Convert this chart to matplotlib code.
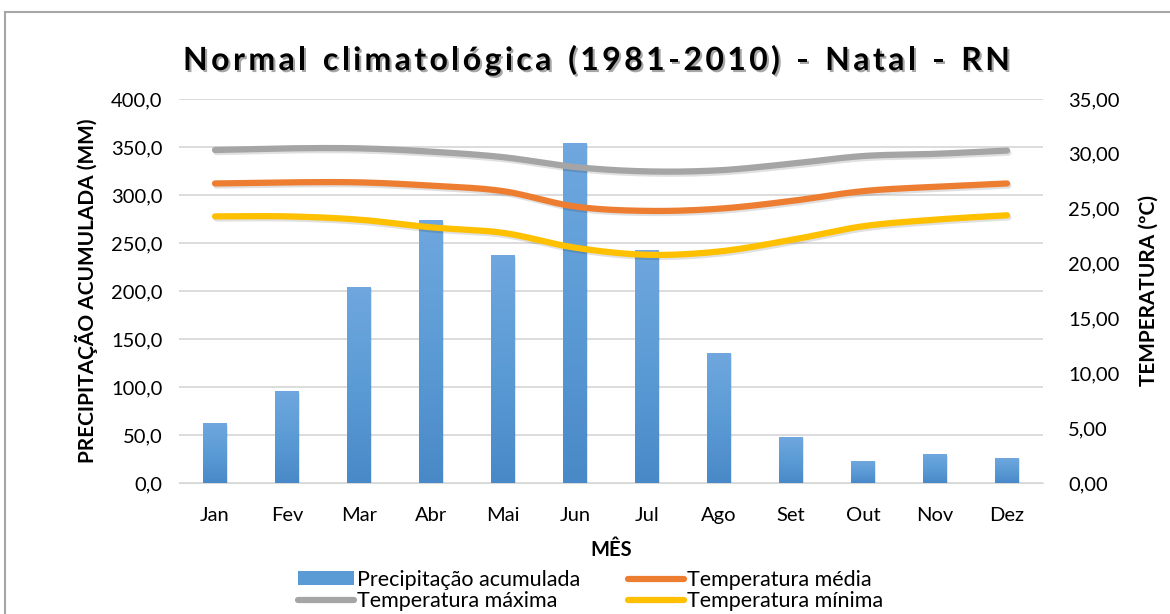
import numpy as np
import matplotlib
matplotlib.use("Agg")
import matplotlib.pyplot as plt
import matplotlib.patheffects as pe
from matplotlib.colors import LinearSegmentedColormap
from matplotlib.lines import Line2D
from matplotlib.patches import Patch, Rectangle
from matplotlib.ticker import FuncFormatter, MultipleLocator

plt.rcParams['font.family'] = ['Lato', 'DejaVu Sans']

meses = ['Jan', 'Fev', 'Mar', 'Abr', 'Mai', 'Jun', 'Jul', 'Ago', 'Set', 'Out', 'Nov', 'Dez']
precipitacao = [61.5, 94.8, 204.0, 273.0, 236.5, 354.0, 242.7, 135.4, 47.9, 22.9, 29.2, 26.0]
temp_max = [30.35, 30.5, 30.5, 30.2, 29.7, 28.8, 28.4, 28.5, 29.1, 29.8, 30.0, 30.3]
temp_media = [27.3, 27.4, 27.4, 27.1, 26.6, 25.2, 24.8, 25.0, 25.7, 26.6, 27.0, 27.3]
temp_min = [24.3, 24.3, 24.0, 23.3, 22.8, 21.45, 20.8, 21.1, 22.15, 23.4, 24.0, 24.4]

titulo = 'Normal climatológica (1981-2010) - Natal - RN'

AZUL = '#5b9bd5'
LARANJA = '#ed7d31'
CINZA = '#a5a5a5'
AMARELO = '#ffc000'


def suavizar(x, y, n=24):
    # curva Catmull-Rom passando pelos pontos (linha suavizada)
    x = np.asarray(x, float)
    y = np.asarray(y, float)
    px = np.concatenate([[2 * x[0] - x[1]], x, [2 * x[-1] - x[-2]]])
    py = np.concatenate([[2 * y[0] - y[1]], y, [2 * y[-1] - y[-2]]])
    xs, ys = [], []
    t = np.linspace(0, 1, n, endpoint=False)
    for i in range(1, len(px) - 2):
        for p, out in ((px, xs), (py, ys)):
            p0, p1, p2, p3 = p[i - 1], p[i], p[i + 1], p[i + 2]
            out.extend(0.5 * (2 * p1 + (-p0 + p2) * t
                              + (2 * p0 - 5 * p1 + 4 * p2 - p3) * t ** 2
                              + (-p0 + 3 * p1 - 3 * p2 + p3) * t ** 3))
    xs.append(x[-1])
    ys.append(y[-1])
    return np.array(xs), np.array(ys)


def texto_espacado(fig, texto, x0, x1, y, **kw):
    # escreve o texto letra a letra, espalhado entre x0 e x1 (em pixels)
    r = fig.canvas.get_renderer()
    W, H = fig.bbox.width, fig.bbox.height
    larguras = []
    for c in texto:
        if c == ' ':
            t = fig.text(0, 0, 'n', **kw)
            w = t.get_window_extent(r).width * 0.55
        else:
            t = fig.text(0, 0, c, **kw)
            w = t.get_window_extent(r).width
        t.remove()
        larguras.append(w)
    extra = (x1 - x0 - sum(larguras)) / (len(texto) - 1)
    pos = x0
    for c, w in zip(texto, larguras):
        if c != ' ':
            fig.text(pos / W, 1 - y / H, c, ha='left', va='baseline', **kw)
        pos += w + extra


fig = plt.figure(figsize=(11.7, 6.14), dpi=100)
fig.patch.set_facecolor('white')

# moldura cinza do gráfico
fig.patches.append(Rectangle((5 / 1170, -0.2), 2.0, 1.2 - 12 / 614,
                             transform=fig.transFigure, fill=False,
                             edgecolor='#a6a6a6', linewidth=1.5))

ax = fig.add_axes([0.153, 0.2134, 0.7385, 0.6254])
ax2 = ax.twinx()

x = np.arange(len(meses))
barras = ax.bar(x, precipitacao, width=0.33, color=AZUL, zorder=2)

# gradiente vertical nas barras
grad = LinearSegmentedColormap.from_list('grad', ['#4a89c8', '#5b9bd5', '#6fa7de'])
for b in barras:
    x0, w, h = b.get_x(), b.get_width(), b.get_height()
    ax.imshow(np.linspace(0, 1, 100).reshape(-1, 1), cmap=grad, origin='lower',
              extent=[x0, x0 + w, 0, h], aspect='auto', zorder=3)
    ax.add_patch(Rectangle((x0 + 0.02, 0), w, h - 0.8, color='#000000',
                           alpha=0.10, zorder=1, linewidth=0))

ax.set_xlim(-0.5, len(meses) - 0.5)
ax.set_ylim(0, 400)
ax.yaxis.set_major_locator(MultipleLocator(50))
ax.yaxis.set_major_formatter(FuncFormatter(lambda v, p: f'{v:.1f}'.replace('.', ',')))
ax.set_xticks(x)
ax.set_xticklabels(meses)
ax.grid(axis='y', color='#d9d9d9', linewidth=1.3, zorder=0)
ax.set_axisbelow(True)

sombra = [pe.SimpleLineShadow(offset=(1, -1.5), alpha=0.12), pe.Normal()]
for serie, cor in ((temp_max, CINZA), (temp_media, LARANJA), (temp_min, AMARELO)):
    sx, sy = suavizar(x, serie)
    ax2.plot(sx, sy, color=cor, linewidth=4.5, solid_capstyle='round',
             path_effects=sombra, zorder=4)

ax2.set_ylim(0, 35)
ax2.yaxis.set_major_locator(MultipleLocator(5))
ax2.yaxis.set_major_formatter(FuncFormatter(lambda v, p: f'{v:.2f}'.replace('.', ',')))

for a in (ax, ax2):
    for s in a.spines.values():
        s.set_visible(False)
    a.tick_params(length=0, labelsize=14.5, colors='#000000')
ax.spines['bottom'].set_visible(True)
ax.spines['bottom'].set_color('#d9d9d9')
ax.tick_params(axis='x', pad=17)
ax.tick_params(axis='y', pad=12)
ax2.tick_params(axis='y', pad=18)

ax.set_ylabel('PRECIPITAÇÃO ACUMULADA (MM)', fontsize=15, fontweight='bold', labelpad=9)
ax2.set_ylabel('TEMPERATURA (ºC)', fontsize=15, fontweight='bold', labelpad=14)
ax.set_xlabel('MÊS', fontsize=14.5, fontweight='bold', labelpad=12)

texto_espacado(fig, titulo, 183, 1010, 70, fontsize=23, fontweight='bold',
               path_effects=[pe.withSimplePatchShadow(offset=(1.5, -1.5), alpha=0.35)])

handles = [Patch(facecolor=AZUL),
           Line2D([], [], color=CINZA, linewidth=4.5, solid_capstyle='round'),
           Line2D([], [], color=LARANJA, linewidth=4.5, solid_capstyle='round'),
           Line2D([], [], color=AMARELO, linewidth=4.5, solid_capstyle='round')]
labels = ['Precipitação acumulada', 'Temperatura máxima',
          'Temperatura média', 'Temperatura mínima']
fig.legend(handles, labels, loc='upper center', bbox_to_anchor=(0.505, 0.093),
           ncol=2, frameon=False, fontsize=15.5, handlelength=2.6,
           handleheight=0.6, handletextpad=0.15, columnspacing=2.2,
           labelspacing=0.05, borderpad=0.1)

fig.savefig('out.png', dpi=100)
